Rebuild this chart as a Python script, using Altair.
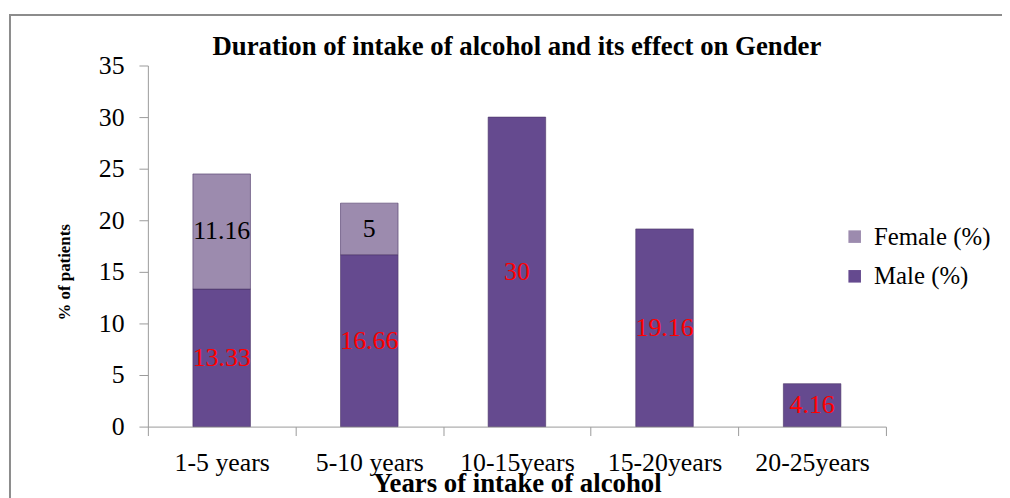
import altair as alt
import pandas as pd

categories = ["1-5 years", "5-10 years", "10-15years", "15-20years", "20-25years"]
male = [13.33, 16.66, 30, 19.16, 4.16]
female = [11.16, 5, None, None, None]
series = ["Male (%)", "Female (%)"]

rows = []
for c, m, f in zip(categories, male, female):
    rows.append({"cat": c, "gender": series[0], "value": m, "ord": 0, "lab": f"{m:g}"})
    if f is not None:
        rows.append({"cat": c, "gender": series[1], "value": f, "ord": 1, "lab": f"{f:g}"})
df = pd.DataFrame(rows)

FONT = "Liberation Serif"

base = alt.Chart(df).transform_stack(
    stack="value", groupby=["cat"], as_=["y0", "y1"], sort=[alt.SortField("ord")]
).transform_calculate(mid="(datum.y0 + datum.y1) / 2")

x_enc = alt.X(
    "cat:N", sort=categories, scale=alt.Scale(paddingInner=0, paddingOuter=0),
    axis=alt.Axis(title="Years of intake of alcohol", labelAngle=0, tickBand="extent",
                  tickSize=9, labelPadding=14, labelFontSize=26, labelFont=FONT,
                  labelColor="#000", titleFont=FONT, titleFontSize=27, titleFontWeight="bold",
                  titleY=65, titleBaseline="alphabetic", titleColor="#000",
                  domainColor="#9a9a9a", tickColor="#9a9a9a")
)

bars = base.mark_bar(size=58, stroke="#4a3566", strokeWidth=0.6).encode(
    x=x_enc,
    y=alt.Y("y0:Q", scale=alt.Scale(domain=[0, 35]),
            axis=alt.Axis(title="% of patients", values=list(range(0, 36, 5)), grid=False,
                          tickSize=9, labelPadding=15, labelFontSize=26, labelFont=FONT,
                          labelColor="#000", titleFont=FONT, titleFontSize=17,
                          titleFontWeight="bold", titleColor="#000", titleX=-84, titleY=208,
                          titleBaseline="middle", domainColor="#9a9a9a", tickColor="#9a9a9a")),
    y2="y1:Q",
    color=alt.Color("gender:N",
                    scale=alt.Scale(domain=["Female (%)", "Male (%)"], range=["#9c8bae", "#654a8f"]),
                    legend=alt.Legend(title=None, orient="none", legendX=700, legendY=160,
                                      symbolType="square", symbolSize=160, symbolStrokeWidth=0,
                                      labelFont=FONT, labelFontSize=25, labelColor="#000",
                                      rowPadding=14, labelOffset=7)),
    order=alt.Order("ord:Q"),
)

texts = base.transform_calculate(
    tcolor="datum.gender === 'Male (%)' ? '#ff0000' : '#000000'"
).mark_text(font=FONT, fontSize=26, baseline="middle").encode(
    x=alt.X("cat:N", sort=categories),
    y=alt.Y("mid:Q"),
    text="lab:N",
    color=alt.Color("tcolor:N", scale=None, legend=None),
)

frame = alt.Chart(pd.DataFrame({"k": [0]})).mark_rect(
    fill=None, stroke="#8c8c8c", strokeWidth=2, clip=False
).encode(x=alt.value(-139), x2=alt.value(870), y=alt.value(-51), y2=alt.value(450))

chart = alt.layer(frame, bars, texts).resolve_scale(color="independent").properties(
    width=744, height=364,
    title=alt.Title("Duration of intake of alcohol and its effect on Gender", font=FONT,
                    fontSize=27, fontWeight="bold", color="#000", anchor="middle",
                    frame="group", baseline="bottom", offset=-74),
    autosize=alt.AutoSizeParams(type="none"),
    padding={"left": 141, "top": 56, "right": 117, "bottom": 70},
).configure_view(stroke=None)

chart.save("out.html", embed_options={"renderer": "svg", "actions": False})
